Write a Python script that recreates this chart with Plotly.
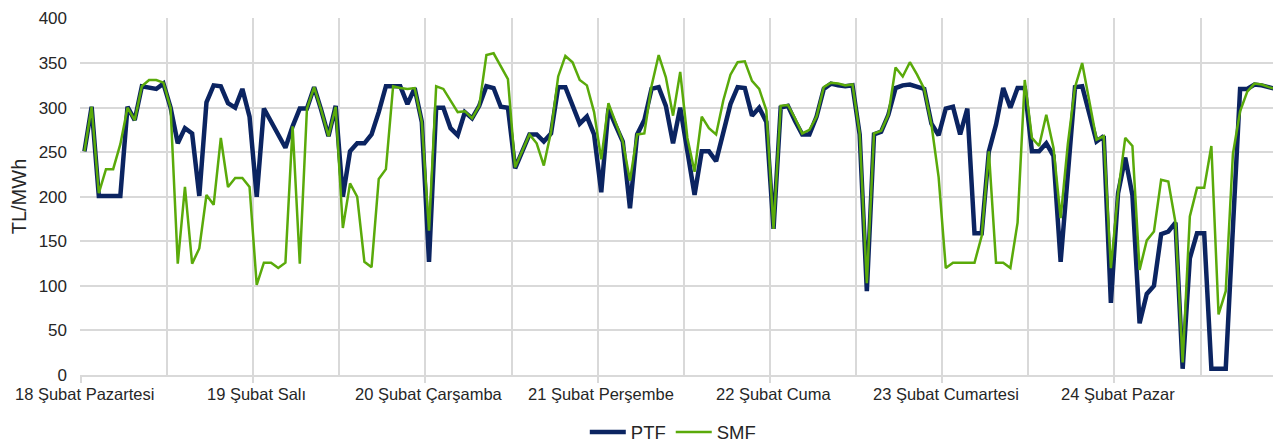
import plotly.graph_objects as go

day_labels = ["18 Şubat Pazartesi", "19 Şubat Salı", "20 Şubat Çarşamba", "21 Şubat Perşembe",
              "22 Şubat Cuma", "23 Şubat Cumartesi", "24 Şubat Pazar"]

ptf = [251, 301, 201, 201, 201, 201, 301, 286, 324, 322, 321, 327, 300, 260, 277, 271, 201, 306, 325, 324, 305, 300, 321, 290,
       200, 299, 284, 270, 255, 279, 299, 299, 323, 297, 268, 302, 200, 251, 260, 260, 270, 295, 324, 324, 324, 304, 322, 284,
       127, 300, 300, 277, 269, 295, 288, 302, 324, 322, 301, 300, 232, 251, 270, 270, 262, 271, 323, 323, 302, 282, 290, 270,
       205, 299, 280, 262, 187, 270, 286, 321, 323, 302, 260, 300, 251, 202, 251, 251, 240, 270, 304, 323, 322, 291, 300, 284,
       164, 300, 302, 285, 270, 270, 290, 321, 327, 325, 324, 325, 270, 94, 270, 273, 292, 322, 325, 326, 324, 321, 282, 269,
       299, 301, 270, 299, 159, 159, 251, 281, 322, 300, 322, 322, 251, 251, 260, 246, 127, 230, 323, 324, 291, 262, 268, 81,
       204, 244, 202, 58, 91, 100, 158, 161, 171, 7, 131, 159, 159, 7, 7, 7, 165, 321, 321, 326, 325, 323, 321, 321]

smf = [251, 301, 204, 231, 231, 259, 300, 286, 324, 331, 331, 328, 300, 125, 211, 125, 142, 202, 191, 266, 211, 221, 221, 211,
       101, 126, 126, 120, 126, 279, 125, 299, 323, 297, 268, 301, 165, 215, 200, 127, 121, 220, 231, 324, 322, 321, 322, 284,
       162, 324, 321, 308, 295, 296, 288, 302, 359, 361, 346, 332, 233, 251, 270, 260, 235, 273, 335, 358, 351, 331, 325, 295,
       242, 305, 284, 262, 218, 270, 271, 324, 359, 334, 291, 340, 266, 228, 290, 277, 270, 308, 337, 351, 352, 330, 321, 297,
       164, 302, 303, 288, 271, 275, 290, 323, 328, 327, 325, 326, 271, 103, 271, 274, 292, 345, 335, 351, 337, 321, 281, 222,
       120, 126, 126, 126, 126, 156, 251, 126, 126, 120, 171, 331, 266, 257, 292, 255, 176, 259, 323, 350, 308, 264, 268, 120,
       204, 266, 257, 118, 151, 161, 219, 217, 171, 14, 178, 210, 210, 257, 68, 94, 248, 296, 318, 327, 326, 323, 321, 321]

hours = list(range(len(ptf)))
n_days = len(day_labels)

FONT = "Liberation Sans, Arial, sans-serif"
GRID = "#d9d9d9"
TXT = "#262626"

fig = go.Figure()
fig.add_trace(go.Scatter(x=hours, y=ptf, mode="lines", name="PTF",
                         line=dict(color="#0b2461", width=4.5)))
fig.add_trace(go.Scatter(x=hours, y=smf, mode="lines", name="SMF",
                         line=dict(color="#5aaa0a", width=2.5)))

for k, lab in enumerate(day_labels):
    fig.add_annotation(x=24 * k, y=0, xref="x", yref="paper", text=lab, showarrow=False,
                       yanchor="top", yshift=-8, font=dict(family=FONT, size=16.5, color=TXT))

# page body has an 8px default margin, so the figure is sized to fit the 1281x448 window
fig.update_layout(
    width=1273, height=440,
    margin=dict(l=72, r=0, t=10, b=72.5, autoexpand=False),
    plot_bgcolor="white", paper_bgcolor="white",
    font=dict(family=FONT, size=17, color=TXT),
    showlegend=True,
    legend=dict(orientation="h", x=0.494, xanchor="center", y=-0.161, yanchor="middle",
                font=dict(family=FONT, size=18.5, color=TXT), itemwidth=36, tracegroupgap=0),
    xaxis=dict(range=[-0.62, 166.7], tickmode="array", automargin=False,
               tickvals=[24 * k - 0.5 for k in range(n_days + 1)],
               ticktext=["" for _ in range(n_days + 1)],
               ticks="outside", ticklen=6, tickcolor=GRID, tickwidth=1.5,
               showgrid=True, gridcolor=GRID, gridwidth=1.5,
               minor=dict(tickmode="linear", tick0=-0.5, dtick=12, showgrid=True,
                          gridcolor=GRID, gridwidth=1.5, ticks=""),
               showline=True, linecolor=GRID, linewidth=1.5, zeroline=False),
    yaxis=dict(range=[0, 400.6], tickmode="array", tickvals=list(range(0, 401, 50)),
               showgrid=True, gridcolor=GRID, gridwidth=1.5,
               zeroline=False, showline=False, ticks="", ticklabelstandoff=12, automargin=False,
               ticklabeloverflow="allow",
               tickfont=dict(family=FONT, size=17, color=TXT),
               title=dict(text="TL/MWh", standoff=7, font=dict(family=FONT, size=20, color=TXT))),
)

fig.write_html("out.html")
